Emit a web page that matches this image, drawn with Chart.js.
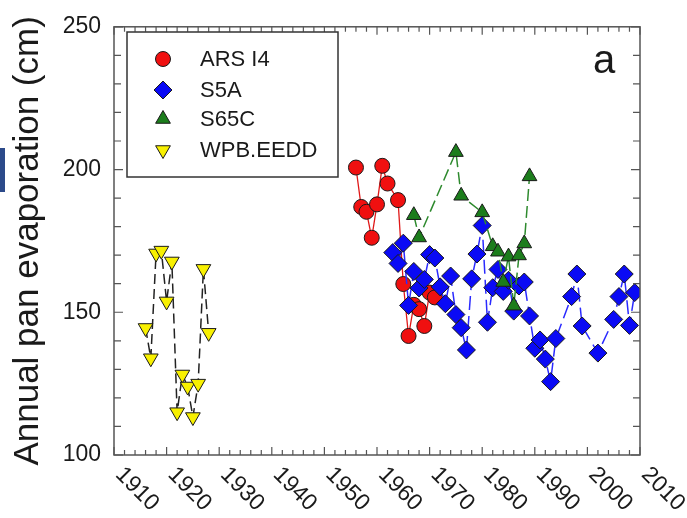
<!DOCTYPE html>
<html>
<head>
<meta charset="utf-8">
<script src="https://cdn.jsdelivr.net/npm/chart.js@4/dist/chart.umd.min.js"></script>
<style>
  html, body { margin: 0; padding: 0; background: #fff; }
  #wrap { width: 687px; height: 518px; position: relative; }
</style>
</head>
<body>
<div id="wrap"><canvas id="c" width="687" height="518"></canvas></div>
<script>
// Annual pan evaporation (cm) at four stations
const arsYears = [1956, 1957, 1958, 1959, 1960, 1961, 1962, 1964, 1965, 1966, 1967, 1968, 1969, 1970, 1971];
const arsValues = [200.7, 186.9, 185.2, 176.1, 187.8, 201.3, 195.1, 189.3, 159.9, 141.7, 152.6, 151.1, 145.2, 156.9, 155.2];

const s5aYears = [1963, 1964, 1965, 1966, 1967, 1968, 1969, 1970, 1971, 1972, 1973, 1974, 1975, 1976, 1977,
                  1978, 1979, 1980, 1981, 1982, 1983, 1984, 1985, 1986, 1987, 1988, 1989, 1990, 1991, 1992,
                  1993, 1994, 1997, 1998, 1999, 2002, 2005, 2006, 2007, 2008, 2009];
const s5aValues = [170.9, 167.1, 174.2, 152.4, 164.3, 158.5, 161.5, 170.2, 169.0, 158.9, 153.0, 162.7, 149.2, 144.6, 136.8,
                   161.7, 170.4, 180.4, 146.5, 158.6, 165.0, 157.3, 161.2, 150.4, 159.2, 160.6, 148.7, 137.4, 140.3, 133.6,
                   125.7, 140.8, 155.5, 163.4, 145.2, 135.7, 147.5, 155.5, 163.4, 145.4, 156.9];

const s65cYears = [1967, 1968, 1975, 1976, 1980, 1982, 1983, 1984, 1985, 1986, 1987, 1988, 1989];
const s65cValues = [184.0, 176.2, 206.1, 190.8, 185.0, 173.1, 171.2, 160.6, 169.5, 152.3, 169.9, 174.1, 197.6];

const wpbYears = [1916, 1917, 1918, 1919, 1920, 1921, 1922, 1923, 1924, 1925, 1926, 1927, 1928];
const wpbValues = [144.5, 133.9, 170.6, 171.6, 153.8, 167.8, 115.0, 128.2, 124.0, 113.3, 125.0, 165.2, 142.8];

const xTickValues = [1910, 1920, 1930, 1940, 1950, 1960, 1970, 1980, 1990, 2000, 2010];
const xTickLabels = ['1910', '1920', '1930', '1940', '1950', '1960', '1970', '1980', '1990', '2000', '2010'];
const yTickValues = [100, 150, 200, 250];

const FONT = '"Liberation Sans", Arial, Helvetica, sans-serif';

function pairs(xs, ys) { return xs.map((x, i) => ({ x: x, y: ys[i] })); }

const datasets = [
  {
    label: 'ARS I4', data: pairs(arsYears, arsValues), showLine: true, order: 4,
    borderColor: '#e01818', borderWidth: 1.3,
    pointStyle: 'circle', pointRadius: 7.5, pointBackgroundColor: '#f01010',
    pointBorderColor: '#1a1a1a', pointBorderWidth: 1
  },
  {
    label: 'S5A', data: pairs(s5aYears, s5aValues), showLine: true, order: 3,
    borderColor: '#2a2aff', borderWidth: 1.5, borderDash: [14, 6],
    pointStyle: 'rectRot', pointRadius: 9, pointBackgroundColor: '#0a0af5',
    pointBorderColor: '#1a1a1a', pointBorderWidth: 1
  },
  {
    label: 'S65C', data: pairs(s65cYears, s65cValues), showLine: true, order: 2,
    borderColor: '#2e8a2e', borderWidth: 1.5, borderDash: [12, 5],
    pointStyle: 'triangle', pointRadius: 8.5, pointBackgroundColor: '#1c7d1c',
    pointBorderColor: '#1a1a1a', pointBorderWidth: 1
  },
  {
    label: 'WPB.EEDD', data: pairs(wpbYears, wpbValues), showLine: true, order: 1,
    borderColor: '#222', borderWidth: 1.5, borderDash: [10, 5],
    pointStyle: 'triangle', pointRotation: 180, pointRadius: 8.5, pointBackgroundColor: '#f8f000',
    pointBorderColor: '#1a1a1a', pointBorderWidth: 1
  }
];

// Frame with inward tick marks on all four sides
const frameTicks = {
  id: 'frameTicks',
  afterDraw(chart) {
    const { ctx, chartArea: a, scales: { x, y } } = chart;
    ctx.save();
    ctx.strokeStyle = '#555';
    ctx.lineWidth = 1.5;
    ctx.strokeRect(a.left, a.top, a.right - a.left, a.bottom - a.top);
    ctx.lineWidth = 1.2;
    ctx.beginPath();
    for (let v = 1910; v <= 2010; v += 2) {
      const px = x.getPixelForValue(v);
      const len = (v % 10 === 0) ? 8 : 5;
      ctx.moveTo(px, a.bottom); ctx.lineTo(px, a.bottom - len);
      ctx.moveTo(px, a.top); ctx.lineTo(px, a.top + len);
    }
    for (let v = 100; v <= 250; v += 10) {
      const py = y.getPixelForValue(v);
      const len = (v % 50 === 0) ? 9 : 7;
      ctx.moveTo(a.left, py); ctx.lineTo(a.left + len, py);
      ctx.moveTo(a.right, py); ctx.lineTo(a.right - len, py);
    }
    ctx.stroke();
    ctx.restore();
  }
};

// Slanted year labels below the x axis
const slantLabels = {
  id: 'slantLabels',
  afterDraw(chart) {
    const { ctx, chartArea: a, scales: { x } } = chart;
    ctx.save();
    ctx.fillStyle = '#1a1a1a';
    ctx.font = '23px ' + FONT;
    ctx.textAlign = 'left';
    ctx.textBaseline = 'top';
    xTickValues.forEach((v, i) => {
      const px = x.getPixelForValue(v);
      ctx.save();
      ctx.translate(px + 13, a.bottom + 8);
      ctx.rotate(45 * Math.PI / 180);
      ctx.fillText(xTickLabels[i], 0, 0);
      ctx.restore();
    });
    ctx.restore();
  }
};

// Boxed legend inside the plot, plus the panel letter
const boxLegend = {
  id: 'boxLegend',
  afterDraw(chart) {
    const { ctx } = chart;
    ctx.save();
    ctx.fillStyle = '#fff';
    ctx.fillRect(127, 32, 211, 145);
    ctx.strokeStyle = '#333';
    ctx.lineWidth = 1.5;
    ctx.strokeRect(127, 32, 211, 145);
    const rowsY = [59, 90, 119, 150];
    chart.data.datasets.forEach((ds, i) => {
      const cy = rowsY[i];
      ctx.fillStyle = ds.pointBackgroundColor;
      ctx.strokeStyle = ds.pointBorderColor;
      ctx.lineWidth = 1;
      Chart.helpers.drawPoint(ctx, {
        pointStyle: ds.pointStyle,
        rotation: ds.pointRotation || 0,
        radius: ds.pointRadius,
        borderWidth: 1
      }, 163, cy);
      ctx.fillStyle = '#1a1a1a';
      ctx.font = '22px ' + FONT;
      ctx.textAlign = 'left';
      ctx.textBaseline = 'middle';
      ctx.fillText(ds.label, 200, cy + 1);
    });
    ctx.font = '40px ' + FONT;
    ctx.textAlign = 'center';
    ctx.textBaseline = 'middle';
    ctx.fillText('a', 604, 62);
    // edge of the neighbouring panel
    ctx.fillStyle = '#2c4a8a';
    ctx.fillRect(0, 148, 5, 44);
    ctx.restore();
  }
};

new Chart(document.getElementById('c'), {
  type: 'scatter',
  data: { datasets: datasets },
  options: {
    responsive: false,
    animation: false,
    layout: { padding: { top: 19, right: 47, left: 0, bottom: 0 } },
    plugins: { legend: { display: false }, tooltip: { enabled: false } },
    scales: {
      x: {
        type: 'linear', min: 1910, max: 2010,
        grid: { display: false }, border: { display: false },
        ticks: { display: false, stepSize: 10 },
        afterFit(s) { s.height = 63; }
      },
      y: {
        type: 'linear', min: 100, max: 250,
        grid: { display: false, drawTicks: false }, border: { display: false },
        afterBuildTicks(s) { s.ticks = yTickValues.map(v => ({ value: v })); },
        ticks: { padding: 13, color: '#1a1a1a', font: { family: FONT, size: 23 } },
        title: {
          display: true, text: 'Annual pan evaporation (cm)', color: '#1a1a1a',
          font: { family: FONT, size: 35 }, padding: { top: 7, bottom: 0 }
        },
        afterFit(s) { s.width = 114; }
      }
    }
  },
  plugins: [frameTicks, slantLabels, boxLegend]
});
</script>
</body>
</html>
